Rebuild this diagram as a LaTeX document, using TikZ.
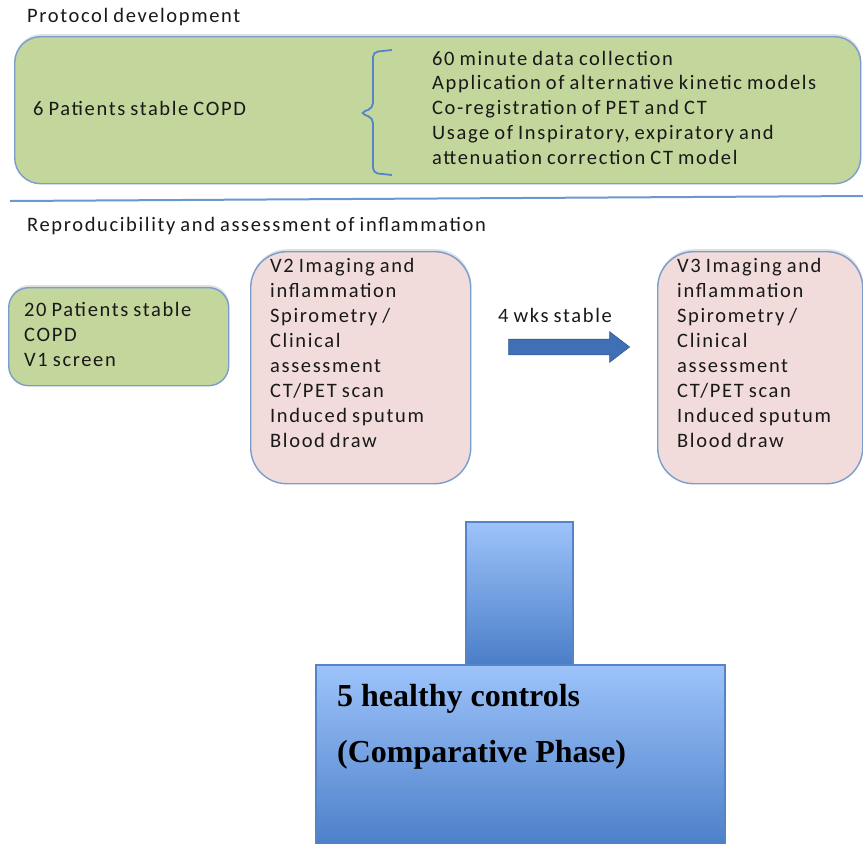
\documentclass[tikz,border=0pt]{standalone}
\usepackage{fontspec}
\setmainfont{Carlito}[LetterSpace=8,WordSpace=0.8]
\newfontfamily\serifbold{Liberation Serif}
\usetikzlibrary{arrows.meta,positioning,calc,shapes.arrows,shadows}

\definecolor{boxgreen}{HTML}{C3D69B}
\definecolor{boxpink}{HTML}{F2DCDB}
\definecolor{edgeblue}{HTML}{7B9DCC}
\definecolor{linkblue}{HTML}{5585C6}
\definecolor{arrowblue}{HTML}{3F6FB5}
\definecolor{ctltop}{HTML}{9DC3FA}
\definecolor{ctlbot}{HTML}{4A7EC8}

\tikzset{
  txt/.style={anchor=base west,inner sep=0,font=\fontsize{20.5}{25}\selectfont,text=black!90},
  roundbox/.style={draw=edgeblue,line width=1.4,anchor=north west,inner sep=0,
    drop shadow={opacity=0.25,shadow xshift=0.5,shadow yshift=-2.5}},
  greenbox/.style={roundbox,fill=boxgreen},
  pinkbox/.style={roundbox,fill=boxpink},
  ctlbox/.style={draw=linkblue,line width=1.2,top color=ctltop,bottom color=ctlbot}
}

\begin{document}
\begin{tikzpicture}[x=1pt,y=-1pt,>=Latex]
  \clip (0,0) rectangle (863,844);
  \fill[white] (0,0) rectangle (863,844);

  \node[txt] (tprot) at (27,22) {Protocol development};
  \node[greenbox,rounded corners=26,minimum width=846,minimum height=147] (pbox) at (14,36) {};
  \node[txt] (pcopd) at (33,115) {6 Patients stable COPD};
  \draw[linkblue,line width=1.8,rounded corners=5] (392,50) -- (373,52) -- (373,108)
    -- (360,113) -- (373,118) -- (373,173) -- (392,175);
  \foreach \t [count=\i] in {60 minute data collection,
      Application of alternative kinetic models,
      Co-registration of PET and CT,
      {Usage of Inspiratory, expiratory and},
      attenuation correction CT model}
    \node[txt] (plist\i) at (432,{65+24.75*(\i-1)}) {\t};

  \draw[linkblue!85,line width=2] (10,201) -- (863,196);
  \node[txt] (trepro) at (27,231) {Reproducibility and assessment of inflammation};

  \node[greenbox,rounded corners=20,minimum width=220,minimum height=98] (v1box) at (8,287) {};
  \foreach \t [count=\i] in {20 Patients stable,COPD,V1 screen}
    \node[txt] (v1l\i) at (24,{316+25*(\i-1)}) {\t};

  \node[pinkbox,rounded corners=36,minimum width=220,minimum height=232] (v2box) at (250,251) {};
  \node[pinkbox,rounded corners=36,minimum width=205,minimum height=232] (v3box) at (657,251) {};
  \foreach \t [count=\i] in {V2 Imaging and,inflammation,Spirometry /,Clinical,
      assessment,CT/PET scan,Induced sputum,Blood draw}
    \node[txt] (v2l\i) at (270,{272+25*(\i-1)}) {\t};
  \foreach \t [count=\i] in {V3 Imaging and,inflammation,Spirometry /,Clinical,
      assessment,CT/PET scan,Induced sputum,Blood draw}
    \node[txt] (v3l\i) at (677,{272+25*(\i-1)}) {\t};

  \node[single arrow,fill=arrowblue,draw=arrowblue!80!black,line width=0.6,inner xsep=0,
    inner ysep=7.5,minimum height=121,minimum width=30,single arrow head extend=7.5,
    single arrow tip angle=75] (stable) at (564,347) {};
  \node[txt,anchor=base] (tstable) at (555,322) {4 wks stable};

  \draw[ctlbox] (466,522) rectangle (573,665);
  \draw[ctlbox] (316,665) rectangle (725,850);
  \node[txt,font=\serifbold\bfseries\fontsize{32}{56}\selectfont,text=black] (hc1) at (337,706) {5 healthy controls};
  \node[txt,font=\serifbold\bfseries\fontsize{32}{56}\selectfont,text=black] (hc2) at (337,762) {(Comparative Phase)};
\end{tikzpicture}
\end{document}
